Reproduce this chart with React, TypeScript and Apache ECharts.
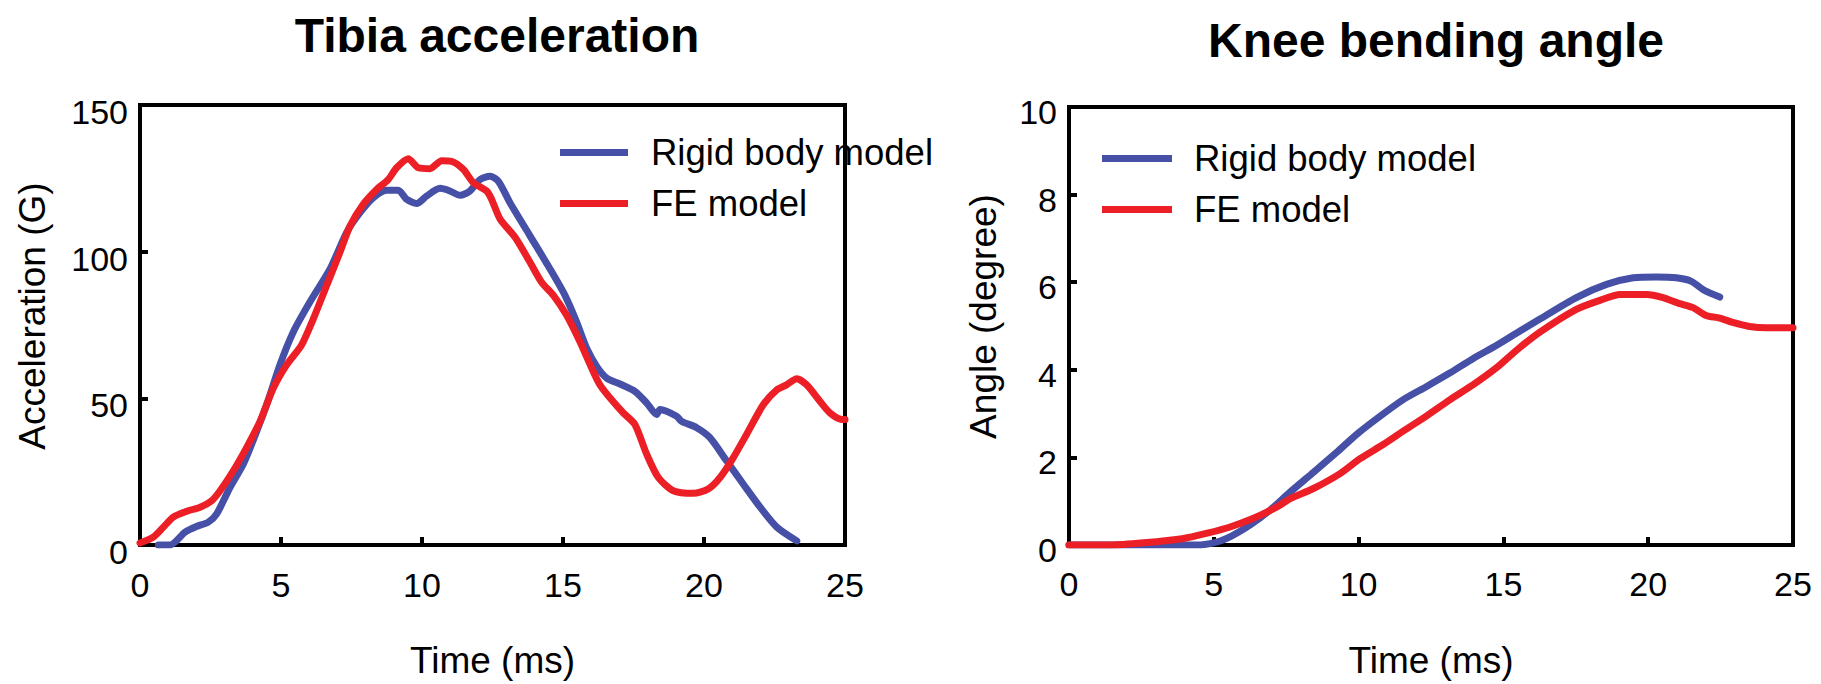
import React, { useEffect, useRef } from "react";
import * as echarts from "echarts";

// ---- Tibia acceleration (left) ----
const tibiaRigidTime = [0.65, 1.06, 1.6, 2.0, 2.42, 2.72, 3.19, 3.66, 4.14, 4.55, 4.96, 5.44, 6.03, 6.74, 7.33, 7.8, 8.27, 8.75, 9.16, 9.46, 9.81, 10.17, 10.64, 10.99, 11.35, 11.7, 12.06, 12.41, 12.71, 13.12, 13.83, 14.54, 15.07, 15.48, 15.84, 16.2, 16.55, 17.02, 17.55, 17.97, 18.32, 18.44, 19.03, 19.2, 19.74, 20.21, 20.8, 21.39, 21.99, 22.58, 23.29];
const tibiaRigidAcc = [0, 0, 4.4, 6.3, 7.8, 10.6, 19.6, 27.5, 38.8, 49.5, 61.4, 72.7, 82.9, 94.1, 106.6, 113.3, 118.4, 120.9, 120.9, 117.8, 116.4, 119, 121.6, 120.7, 119.2, 120.7, 124.6, 125.7, 124, 116.7, 105.4, 94.1, 85.1, 76.1, 67.1, 60.8, 56.9, 54.9, 52.4, 48.4, 44.5, 46.2, 43.9, 42.2, 40.0, 36.6, 28.7, 20.8, 12.9, 6.1, 1.4];

const tibiaFETime = [0, 0.47, 0.83, 1.18, 1.66, 2.13, 2.54, 2.84, 3.31, 3.78, 4.26, 4.73, 5.2, 5.73, 6.15, 6.62, 7.09, 7.45, 7.92, 8.39, 8.8, 9.1, 9.51, 9.87, 10.28, 10.7, 11.05, 11.47, 11.82, 12.29, 12.47, 12.77, 13.3, 13.83, 14.24, 14.66, 15.13, 15.6, 16.07, 16.31, 16.67, 17.14, 17.55, 17.97, 18.38, 18.91, 19.62, 20.15, 20.57, 21.04, 21.51, 22.1, 22.58, 22.93, 23.29, 23.64, 24.11, 24.47, 24.89, 25];
const tibiaFEAcc = [0.7, 2.7, 6.1, 9.5, 11.5, 12.9, 15.1, 18.5, 25.3, 33.2, 42.2, 53.5, 61.4, 68.2, 77.2, 88.5, 99.8, 108.8, 116.2, 121.2, 124.6, 128.6, 131.7, 128.6, 128.3, 131, 130.8, 128, 123.5, 120.7, 117.8, 111.1, 104.9, 96.4, 89.6, 85.1, 78.3, 69.3, 59.2, 54.6, 50.1, 45.0, 41.1, 30.9, 23.0, 18.5, 17.6, 19.1, 23.0, 29.8, 37.7, 47.8, 52.9, 54.6, 56.7, 54.6, 49.0, 45.0, 42.8, 42.8];

// ---- Knee bending angle (right) ----
const kneeRigidTime = [0, 4.42, 4.99, 5.45, 6.26, 6.95, 7.64, 8.44, 9.25, 9.94, 10.74, 11.54, 12.35, 13.16, 13.96, 14.77, 15.46, 16.26, 17.52, 18.56, 19.48, 20.28, 20.97, 21.49, 21.95, 22.47];
const kneeRigidAngle = [0, 0, 0.05, 0.15, 0.46, 0.8, 1.21, 1.66, 2.12, 2.53, 2.94, 3.32, 3.62, 3.93, 4.26, 4.56, 4.84, 5.16, 5.65, 5.95, 6.1, 6.12, 6.1, 6.02, 5.81, 5.66];

const kneeFETime = [0, 1.43, 2.58, 3.96, 4.77, 5.51, 6.37, 7.18, 7.64, 8.44, 9.36, 10.05, 10.86, 11.54, 12.35, 13.16, 13.96, 14.77, 15.46, 16.26, 17.52, 18.44, 19.02, 19.94, 20.51, 21.09, 21.55, 22.0, 22.47, 22.92, 23.5, 24.08, 25];
const kneeFEAngle = [0, 0, 0.05, 0.15, 0.27, 0.4, 0.61, 0.87, 1.06, 1.29, 1.63, 1.97, 2.3, 2.6, 2.95, 3.32, 3.66, 4.05, 4.45, 4.86, 5.38, 5.61, 5.72, 5.72, 5.65, 5.51, 5.42, 5.24, 5.18, 5.08, 4.99, 4.96, 4.96];

const seriesNames = ["Rigid body model", "FE model"];
const titles = ["Tibia acceleration", "Knee bending angle"];
const xTicks = { min: 0, max: 25, interval: 5 };
const leftY = { min: 0, max: 150, interval: 50 };
const rightY = { min: 0, max: 10, interval: 2 };

const BLUE = "#4550A6";
const RED = "#ED1F26";
const FONT = "'Liberation Sans', Arial, Helvetica, sans-serif";

const zip = (xs: number[], ys: number[]) => xs.map((x, i) => [x, ys[i]]);

export default function App() {
  const ref = useRef<HTMLDivElement>(null);
  useEffect(() => {
    document.body.style.margin = "0";
    const chart = echarts.init(ref.current!, null, { renderer: "svg" });

    const axisLine = { show: true, lineStyle: { color: "#000", width: 4 } };
    const axisTick = { show: true, inside: true, length: 8, lineStyle: { color: "#000", width: 4 } };

    const xAxisBase = (gridIndex: number, margin: number) => ({
      type: "value",
      gridIndex,
      ...xTicks,
      name: "Time (ms)",
      nameLocation: "middle",
      nameGap: 97,
      nameTextStyle: { fontSize: 37, color: "#000", fontFamily: FONT },
      axisLine,
      axisTick,
      splitLine: { show: false },
      axisLabel: { fontSize: 34, color: "#000", fontFamily: FONT, margin },
    });

    const yLabel = (pn: number, pz: number) => ({
      margin: 12,
      formatter: (v: number) => (v === 0 ? "{z|0}" : "{n|" + v + "}"),
      rich: {
        n: { fontSize: 34, color: "#000", fontFamily: FONT, padding: [pn, 0, 0, 0] },
        z: { fontSize: 34, color: "#000", fontFamily: FONT, padding: [pz, 0, 0, 0] },
      },
    });

    const lineSeries = (name: string, data: number[][], color: string, idx: number) => ({
      type: "line",
      name,
      data,
      xAxisIndex: idx,
      yAxisIndex: idx,
      showSymbol: false,
      symbol: "none",
      smooth: 0.25,
      color,
      lineStyle: { color, width: 7, join: "round", cap: "round" },
    });

    const legendBase = (left: number, top: number, w: number, pad: number) => ({
      data: seriesNames,
      orient: "vertical",
      left,
      top,
      padding: 0,
      itemGap: 14,
      icon: "rect",
      itemWidth: w,
      itemHeight: 7,
      selectedMode: false,
      textStyle: { fontSize: 36.5, color: "#000", fontFamily: FONT, padding: [0, 0, 8, pad] },
    });

    chart.setOption({
      animation: false,
      backgroundColor: "#fff",
      graphic: [
        { type: "text", x: 497, y: 35.5, style: { text: titles[0], font: `bold 48px ${FONT}`, fill: "#000", textAlign: "center", textVerticalAlign: "middle" } },
        { type: "text", x: 1436, y: 40.5, style: { text: titles[1], font: `bold 48px ${FONT}`, fill: "#000", textAlign: "center", textVerticalAlign: "middle" } },
      ],
      grid: [
        { left: 140, top: 105, width: 705, height: 443, show: true, borderColor: "#000", borderWidth: 4, backgroundColor: "transparent" },
        { left: 1069, top: 107, width: 724, height: 444, show: true, borderColor: "#000", borderWidth: 4, backgroundColor: "transparent" },
      ],
      legend: [legendBase(560, 134, 68, 18), legendBase(1102, 140, 70, 17)],
      xAxis: [xAxisBase(0, 23), xAxisBase(1, 22)],
      yAxis: [
        {
          type: "value",
          gridIndex: 0,
          ...leftY,
          name: "Acceleration (G)",
          nameLocation: "middle",
          nameGap: 89,
          nameTextStyle: { fontSize: 37, color: "#000", fontFamily: FONT, padding: [0, 0, 0, 18] },
          axisLine,
          axisTick,
          splitLine: { show: false },
          axisLabel: yLabel(14, 14),
        },
        {
          type: "value",
          gridIndex: 1,
          ...rightY,
          name: "Angle (degree)",
          nameLocation: "middle",
          nameGap: 67,
          nameTextStyle: { fontSize: 37, color: "#000", fontFamily: FONT, padding: [0, 0, 0, 19] },
          axisLine,
          axisTick,
          splitLine: { show: false },
          axisLabel: yLabel(10, 10),
        },
      ],
      series: [
        lineSeries(seriesNames[0], zip(tibiaRigidTime, tibiaRigidAcc), BLUE, 0),
        lineSeries(seriesNames[1], zip(tibiaFETime, tibiaFEAcc), RED, 0),
        lineSeries(seriesNames[0], zip(kneeRigidTime, kneeRigidAngle), BLUE, 1),
        lineSeries(seriesNames[1], zip(kneeFETime, kneeFEAngle), RED, 1),
      ],
    });
    return () => chart.dispose();
  }, []);
  return <div ref={ref} style={{ width: 1821, height: 684 }} />;
}
